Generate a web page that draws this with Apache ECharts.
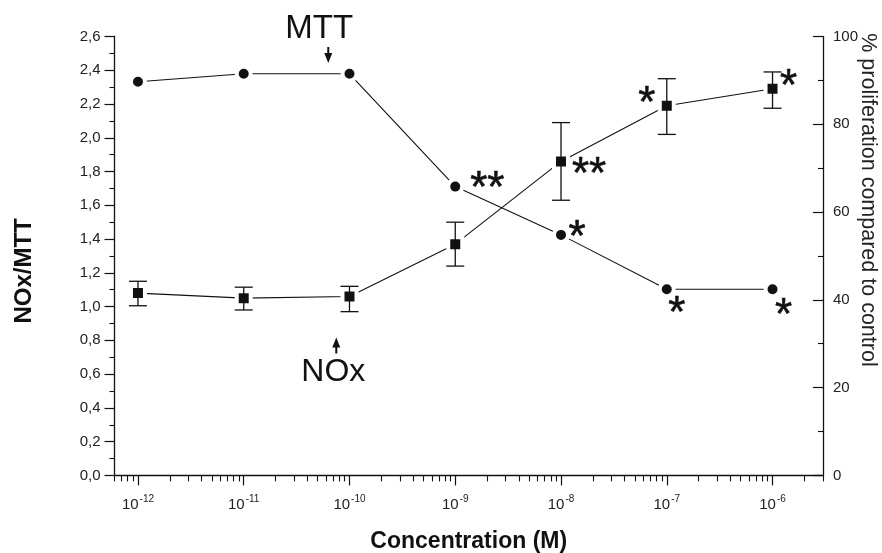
<!DOCTYPE html>
<html><head><meta charset="utf-8">
<script src="https://cdn.jsdelivr.net/npm/echarts@6/dist/echarts.min.js"></script>
<style>html,body{margin:0;padding:0;background:#fff}#c{width:882px;height:553px}</style>
</head><body><div id="c"></div>
<script>
// ---- data ----
const concentrations = [1e-12, 1e-11, 1e-10, 1e-9, 1e-8, 1e-7, 1e-6];
const xTickExponents = [-12, -11, -10, -9, -8, -7, -6];
const xRange = [6e-13, 3e-6];
const noxRatio = [1.08, 1.05, 1.06, 1.37, 1.86, 2.19, 2.29];
const noxHigh  = [1.15, 1.115, 1.12, 1.50, 2.09, 2.35, 2.39];
const noxLow   = [1.005, 0.98, 0.97, 1.24, 1.63, 2.02, 2.175];
const mttPercent = [89.7, 91.5, 91.5, 65.8, 54.8, 42.4, 42.4];
const mttSignif = ['', '', '', '**', '*', '*', '*'];
const noxSignif = ['', '', '', '', '**', '*', '*'];
const leftTicks = [0, 2.6, 0.2];
const rightTicks = [0, 100, 20];
const mttArrowAnchor = [6.3e-11, 95.8];
const noxArrowAnchor = [7.5e-11, 0.77];

// ---- styles ----
const INK = '#111';
const FONT = "'Liberation Sans', Arial, sans-serif";
const mttSigOffset = [null, null, null, [32, 3], [16, 4], [10, 26], [11, 28]];
const noxSigOffset = [null, null, null, null, [28, 14], [-20, -1], [16, -1]];

const lx = v => Math.log10(v);
const xMin = lx(xRange[0]), xMax = lx(xRange[1]);
const minorVals = [];
for (let n = -13; n <= -6; n++) for (let k = 2; k <= 9; k++) {
  const v = Math.log10(k) + n;
  if (v >= xMin - 1e-9 && v <= xMax + 1e-9) minorVals.push(v);
}

function sigItem(x, y, txt, off) {
  const item = { value: [x, y] };
  if (txt) item.label = { show: true, formatter: txt, position: 'inside', offset: off,
    fontSize: 44, fontFamily: FONT, color: INK, align: 'center', verticalAlign: 'middle',
    textBorderColor: INK, textBorderWidth: 0.6 };
  return item;
}
const mttData = concentrations.map((c, i) => sigItem(lx(c), mttPercent[i], mttSignif[i], mttSigOffset[i]));
const noxData = concentrations.map((c, i) => sigItem(lx(c), noxRatio[i], noxSignif[i], noxSigOffset[i]));
const errData = concentrations.map((c, i) => [lx(c), noxLow[i], noxHigh[i]]);

const tickLabel = { fontSize: 15, color: '#222', fontFamily: FONT };

const chart = echarts.init(document.getElementById('c'));
chart.setOption({
  animation: false,
  backgroundColor: '#fff',
  grid: { left: 114.5, right: 59, top: 36.5, bottom: 77.6, containLabel: false, outerBoundsMode: 'none' },
  xAxis: [{
    type: 'value', min: xMin, max: xMax, position: 'bottom',
    name: 'Concentration (M)', nameLocation: 'middle', nameGap: 55, nameMoveOverlap: false,
    nameTextStyle: { fontSize: 23, fontWeight: 'bold', color: INK, fontFamily: FONT },
    axisLine: { show: true, onZero: false, lineStyle: { color: INK, width: 1.3 } },
    axisTick: { show: true, customValues: xTickExponents, length: 10, lineStyle: { color: INK, width: 1.2 } },
    axisLabel: { show: true, customValues: xTickExponents, margin: 19,
      formatter: v => '{b|10}{s|' + Math.round(v) + '}',
      rich: { b: { fontSize: 15, color: '#222', fontFamily: FONT },
              s: { fontSize: 10, color: '#222', fontFamily: FONT, padding: [0, 0, 10, 1] } } },
    splitLine: { show: false }
  }, {
    type: 'value', min: xMin, max: xMax, position: 'bottom',
    axisLine: { show: false },
    axisTick: { show: true, customValues: minorVals, length: 6, lineStyle: { color: INK, width: 1.1 } },
    axisLabel: { show: false },
    splitLine: { show: false }
  }],
  yAxis: [{
    type: 'value', min: leftTicks[0], max: leftTicks[1], interval: leftTicks[2], position: 'left',
    name: 'NOx/MTT', nameLocation: 'middle', nameRotate: 90, nameGap: 78, nameMoveOverlap: false,
    nameTextStyle: { fontSize: 24, fontWeight: 'bold', color: INK, fontFamily: FONT, padding: [0, 30, 0, 0] },
    axisLine: { show: true, onZero: false, lineStyle: { color: INK, width: 1.3 } },
    axisTick: { show: true, length: 10, lineStyle: { color: INK, width: 1.2 } },
    minorTick: { show: true, splitNumber: 2, length: 5, lineStyle: { color: INK, width: 1.1 } },
    axisLabel: Object.assign({ margin: 14, formatter: v => v.toFixed(1).replace('.', ',') }, tickLabel),
    splitLine: { show: false }, minorSplitLine: { show: false }
  }, {
    type: 'value', min: rightTicks[0], max: rightTicks[1], interval: rightTicks[2], position: 'right',
    name: '% proliferation compared to control', nameLocation: 'middle', nameRotate: -90, nameGap: 34,
    nameMoveOverlap: false,
    nameTextStyle: { fontSize: 21.5, color: '#222', fontFamily: FONT, padding: [0, 112, 0, 0] },
    axisLine: { show: true, onZero: false, lineStyle: { color: INK, width: 1.3 } },
    axisTick: { show: true, inside: true, length: 10, lineStyle: { color: INK, width: 1.2 } },
    minorTick: { show: true, splitNumber: 2, length: 5, lineStyle: { color: INK, width: 1.1 } },
    axisLabel: Object.assign({ margin: 10 }, tickLabel),
    splitLine: { show: false }, minorSplitLine: { show: false }
  }],
  series: [{
    name: 'MTT', type: 'line', xAxisIndex: 0, yAxisIndex: 1, data: mttData,
    symbol: 'circle', symbolSize: 14, z: 2,
    lineStyle: { color: INK, width: 1.1 },
    itemStyle: { color: INK, borderColor: '#fff', borderWidth: 4 },
    label: { show: false },
    markPoint: {
      data: [{
        coord: [lx(mttArrowAnchor[0]), mttArrowAnchor[1]],
        symbol: 'path://M3,0 L5,0 L5,6 L8,6 L4,16 L0,6 L3,6 Z', symbolSize: [8, 16],
        itemStyle: { color: INK, borderWidth: 0 },
        label: { show: true, position: 'top', distance: 2, offset: [-9, 0], formatter: 'MTT',
                 fontSize: 33, color: INK, fontFamily: FONT }
      }]
    }
  }, {
    name: 'NOx', type: 'line', xAxisIndex: 0, yAxisIndex: 0, data: noxData,
    symbol: 'rect', symbolSize: 14, z: 2,
    lineStyle: { color: INK, width: 1.1 },
    itemStyle: { color: INK, borderColor: '#fff', borderWidth: 4 },
    label: { show: false },
    markPoint: {
      data: [{
        coord: [lx(noxArrowAnchor[0]), noxArrowAnchor[1]],
        symbol: 'path://M4,0 L8,10 L5,10 L5,16 L3,16 L3,10 L0,10 Z', symbolSize: [8, 16],
        itemStyle: { color: INK, borderWidth: 0 },
        label: { show: true, position: 'bottom', distance: 3, offset: [-3, 0], formatter: 'NOx',
                 fontSize: 32, color: INK, fontFamily: FONT }
      }]
    }
  }, {
    name: 'NOx error', type: 'custom', xAxisIndex: 0, yAxisIndex: 0, data: errData, z: 3,
    encode: { x: 0, y: [1, 2] },
    renderItem: function (params, api) {
      const x = api.value(0);
      const pHi = api.coord([x, api.value(2)]);
      const pLo = api.coord([x, api.value(1)]);
      const w = 9;
      const st = { stroke: INK, lineWidth: 1.3 };
      return { type: 'group', children: [
        { type: 'line', shape: { x1: pHi[0], y1: pHi[1], x2: pLo[0], y2: pLo[1] }, style: st },
        { type: 'line', shape: { x1: pHi[0] - w, y1: pHi[1], x2: pHi[0] + w, y2: pHi[1] }, style: st },
        { type: 'line', shape: { x1: pLo[0] - w, y1: pLo[1], x2: pLo[0] + w, y2: pLo[1] }, style: st }
      ]};
    }
  }]
});
</script>
</body></html>
